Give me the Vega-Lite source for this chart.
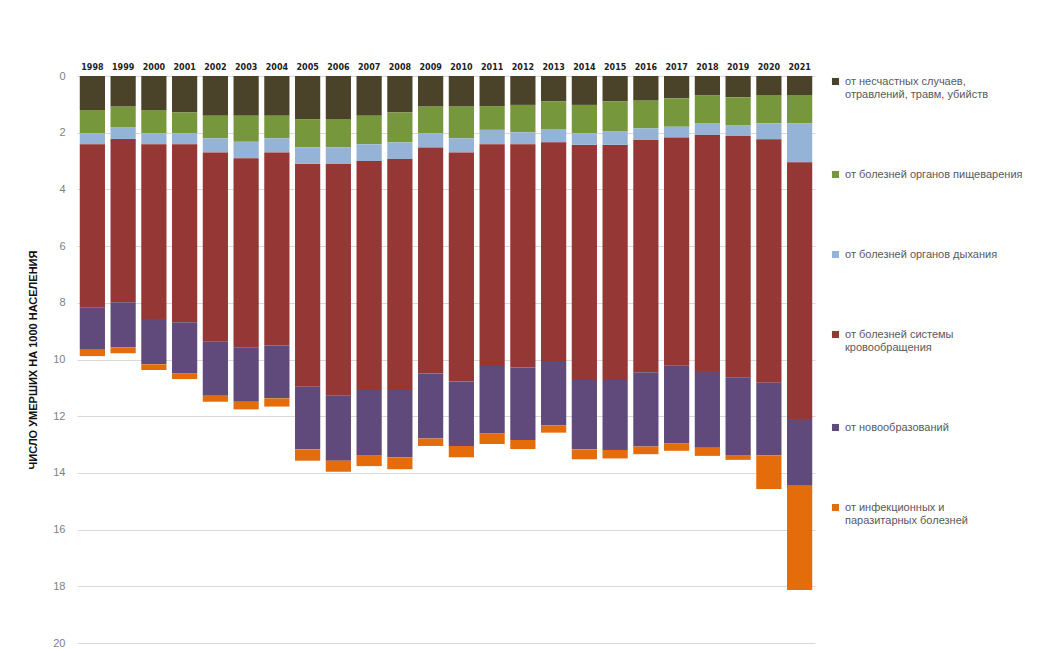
{
  "$schema": "https://vega.github.io/schema/vega-lite/v6.json",
  "width": 738,
  "height": 567,
  "autosize": "none",
  "padding": {"left": 77, "top": 76, "right": 237, "bottom": 6},
  "background": "white",
  "config": {"font": "Liberation Sans", "view": {"stroke": null}},
  "data": {
    "values": [
      {"year": "1998", "a": 1.20, "b": 0.82, "c": 0.39, "d": 5.75, "e": 1.50, "f": 0.22},
      {"year": "1999", "a": 1.08, "b": 0.74, "c": 0.40, "d": 5.76, "e": 1.59, "f": 0.21},
      {"year": "2000", "a": 1.20, "b": 0.82, "c": 0.39, "d": 6.16, "e": 1.60, "f": 0.20},
      {"year": "2001", "a": 1.29, "b": 0.73, "c": 0.39, "d": 6.28, "e": 1.80, "f": 0.20},
      {"year": "2002", "a": 1.40, "b": 0.80, "c": 0.50, "d": 6.67, "e": 1.91, "f": 0.21},
      {"year": "2003", "a": 1.40, "b": 0.92, "c": 0.58, "d": 6.67, "e": 1.92, "f": 0.27},
      {"year": "2004", "a": 1.40, "b": 0.80, "c": 0.50, "d": 6.81, "e": 1.86, "f": 0.29},
      {"year": "2005", "a": 1.52, "b": 1.00, "c": 0.58, "d": 7.86, "e": 2.21, "f": 0.40},
      {"year": "2006", "a": 1.52, "b": 1.00, "c": 0.58, "d": 8.18, "e": 2.29, "f": 0.39},
      {"year": "2007", "a": 1.40, "b": 1.01, "c": 0.59, "d": 8.08, "e": 2.29, "f": 0.39},
      {"year": "2008", "a": 1.29, "b": 1.05, "c": 0.59, "d": 8.15, "e": 2.37, "f": 0.42},
      {"year": "2009", "a": 1.08, "b": 0.94, "c": 0.50, "d": 7.97, "e": 2.30, "f": 0.26},
      {"year": "2010", "a": 1.08, "b": 1.12, "c": 0.50, "d": 8.08, "e": 2.27, "f": 0.40},
      {"year": "2011", "a": 1.06, "b": 0.84, "c": 0.51, "d": 7.82, "e": 2.37, "f": 0.38},
      {"year": "2012", "a": 1.02, "b": 0.97, "c": 0.42, "d": 7.87, "e": 2.56, "f": 0.32},
      {"year": "2013", "a": 0.90, "b": 0.97, "c": 0.47, "d": 7.71, "e": 2.28, "f": 0.25},
      {"year": "2014", "a": 1.02, "b": 1.00, "c": 0.41, "d": 8.29, "e": 2.45, "f": 0.35},
      {"year": "2015", "a": 0.90, "b": 1.06, "c": 0.47, "d": 8.29, "e": 2.47, "f": 0.30},
      {"year": "2016", "a": 0.87, "b": 0.98, "c": 0.41, "d": 8.19, "e": 2.62, "f": 0.27},
      {"year": "2017", "a": 0.79, "b": 1.00, "c": 0.38, "d": 8.05, "e": 2.74, "f": 0.26},
      {"year": "2018", "a": 0.69, "b": 0.97, "c": 0.42, "d": 8.33, "e": 2.70, "f": 0.29},
      {"year": "2019", "a": 0.75, "b": 0.98, "c": 0.39, "d": 8.51, "e": 2.74, "f": 0.17},
      {"year": "2020", "a": 0.67, "b": 1.00, "c": 0.56, "d": 8.59, "e": 2.57, "f": 1.18},
      {"year": "2021", "a": 0.67, "b": 1.00, "c": 1.37, "d": 9.06, "e": 2.35, "f": 3.68}
    ]
  },
  "transform": [
    {"fold": ["a", "b", "c", "d", "e", "f"], "as": ["cause", "value"]}
  ],
  "mark": {"type": "bar"},
  "encoding": {
    "x": {
      "field": "year",
      "type": "ordinal",
      "scale": {"paddingInner": 0.18, "paddingOuter": 0.09},
      "axis": {
        "orient": "top",
        "title": null,
        "labelAngle": 0,
        "labelFont": "DejaVu Sans",
        "labelFontWeight": "bold",
        "labelFontSize": 8,
        "labelColor": "#222222",
        "labelPadding": 5,
        "ticks": false,
        "domain": false
      }
    },
    "y": {
      "field": "value",
      "type": "quantitative",
      "stack": "zero",
      "scale": {"domain": [0, 20], "reverse": true, "nice": false},
      "axis": {
        "values": [0, 2, 4, 6, 8, 10, 12, 14, 16, 18, 20],
        "title": "ЧИСЛО УМЕРШИХ НА 1000 НАСЕЛЕНИЯ",
        "titleFontSize": 11,
        "titleFontWeight": "bold",
        "titleColor": "#111111",
        "titlePadding": 14,
        "labelColor": "#7f7f7f",
        "labelFontSize": 11,
        "labelPadding": 12,
        "ticks": false,
        "domain": false,
        "gridColor": "#d9d9d9"
      }
    },
    "order": {"field": "cause", "sort": "ascending"},
    "color": {
      "field": "cause",
      "type": "nominal",
      "scale": {
        "domain": ["a", "b", "c", "d", "e", "f"],
        "range": ["#4a4229", "#77973d", "#95b3d7", "#953735", "#604a7b", "#e46c0a"]
      },
      "legend": {
        "title": null,
        "orient": "right",
        "offset": 15,
        "symbolType": "square",
        "symbolSize": 50,
        "symbolStrokeWidth": 0,
        "labelFontSize": 11,
        "labelColor": "#595959",
        "labelLimit": 250,
        "rowPadding": 68,
        "labelExpr": "datum.value == 'a' ? ['от несчастных случаев,', 'отравлений, травм, убийств'] : datum.value == 'b' ? 'от болезней органов пищеварения' : datum.value == 'c' ? 'от болезней органов дыхания' : datum.value == 'd' ? ['от болезней системы', 'кровообращения'] : datum.value == 'e' ? 'от новообразований' : ['от инфекционных и', 'паразитарных болезней']"
      }
    }
  }
}
